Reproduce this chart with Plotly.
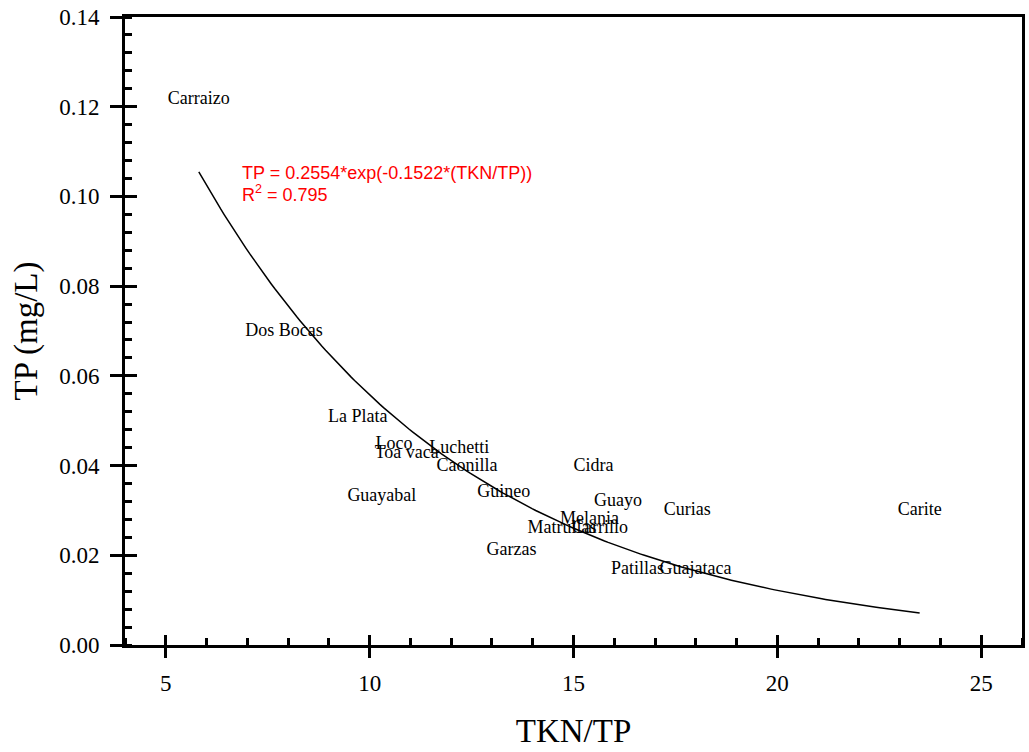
import numpy as np
import plotly.graph_objects as go

# Reservoir data (TKN/TP ratio vs TP)
reservoirs = ["Carraizo", "Dos Bocas", "La Plata", "Loco", "Toa vaca", "Luchetti",
              "Caonilla", "Cidra", "Guayabal", "Guineo", "Guayo", "Curias",
              "Melania", "Matrullas", "Carrillo", "Garzas", "Patillas", "Guajataca",
              "Carite"]
tkn_tp = [5.81, 7.90, 9.71, 10.60, 10.91, 12.20,
          12.39, 15.49, 10.30, 13.29, 16.09, 17.79,
          15.39, 14.72, 15.65, 13.48, 16.57, 17.99,
          23.49]
tp = [0.1217, 0.0700, 0.0508, 0.0448, 0.0428, 0.0439,
      0.0399, 0.0399, 0.0330, 0.0339, 0.0319, 0.0299,
      0.0279, 0.0259, 0.0259, 0.0210, 0.0169, 0.0169,
      0.0299]

# Fitted exponential model shown on the chart
fit_a = 0.2554
fit_b = 0.1522
fit_r2 = 0.795

x_ticks = [5, 10, 15, 20, 25]
y_ticks = [0.00, 0.02, 0.04, 0.06, 0.08, 0.10, 0.12, 0.14]

xfit = np.linspace(min(tkn_tp), max(tkn_tp), 200)
yfit = fit_a * np.exp(-fit_b * xfit)

serif = "Times New Roman, Liberation Serif, serif"
sans = "Arial, Liberation Sans, sans-serif"

fig = go.Figure()
fig.add_trace(go.Scatter(x=xfit, y=yfit, mode="lines",
                         line=dict(color="black", width=1.5),
                         showlegend=False, hoverinfo="skip"))
fig.add_trace(go.Scatter(x=tkn_tp, y=tp, mode="text", text=reservoirs,
                         textposition="middle center",
                         textfont=dict(family=serif, size=18, color="black"),
                         showlegend=False))

eq_font = dict(family=sans, size=18, color="red")
fig.add_annotation(x=6.83, y=0.1052, xref="x", yref="y",
                   xanchor="left", yanchor="middle", showarrow=False,
                   text=f"TP = {fit_a}*exp(-{fit_b}*(TKN/TP))", font=eq_font)
fig.add_annotation(x=6.83, y=0.1006, xref="x", yref="y",
                   xanchor="left", yanchor="middle", showarrow=False,
                   text=f"R<sup>2</sup> = {fit_r2}", font=eq_font)

axis_common = dict(showgrid=False, zeroline=False, showline=True,
                   linecolor="black", linewidth=3, mirror=True,
                   tickcolor="black", tickwidth=3, automargin=False,
                   tickfont=dict(family=serif, size=23, color="black"))

fig.update_layout(
    width=1029, height=752,
    margin=dict(l=125, r=7, t=17, b=107),
    plot_bgcolor="white", paper_bgcolor="white",
    xaxis=dict(**axis_common, range=[4, 26], tickvals=x_ticks,
               ticks="outside", ticklen=10, ticklabelstandoff=5,
               minor=dict(ticks="inside", dtick=1, ticklen=7, tickwidth=3,
                          tickcolor="black", showgrid=False),
               title=dict(text="TKN/TP", font=dict(family=serif, size=33, color="black"),
                          standoff=25)),
    yaxis=dict(**axis_common, range=[0, 0.14], tickvals=y_ticks, tickformat=".2f",
               ticks="outside", ticklen=12, ticklabelstandoff=6,
               minor=dict(ticks="inside", dtick=0.004, ticklen=7, tickwidth=3,
                          tickcolor="black", showgrid=False),
               title=dict(text="TP (mg/L)", font=dict(family=serif, size=33, color="black"),
                          standoff=12)),
    xaxis2=dict(overlaying="x", matches="x", range=[4, 26], tickvals=x_ticks,
                ticks="inside", ticklen=10, tickwidth=3, tickcolor="black",
                showticklabels=False, showgrid=False, zeroline=False, showline=False,
                side="bottom", automargin=False),
    yaxis2=dict(overlaying="y", matches="y", range=[0, 0.14], tickvals=y_ticks,
                ticks="inside", ticklen=12, tickwidth=3, tickcolor="black",
                showticklabels=False, showgrid=False, zeroline=False, showline=False,
                side="left", automargin=False),
)
# empty trace to activate the overlay axes (inner half of major ticks)
fig.add_trace(go.Scatter(x=[4], y=[0], xaxis="x2", yaxis="y2", mode="none",
                         showlegend=False, hoverinfo="skip"))

fig.write_html("out.html", config={"displayModeBar": False},
               post_script="document.body.style.margin='0';document.body.style.overflow='hidden';")
